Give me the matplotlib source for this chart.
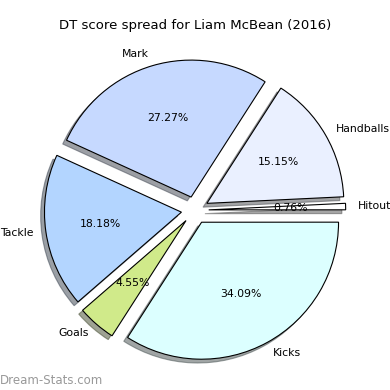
import matplotlib
matplotlib.use('Agg')
import matplotlib.pyplot as plt

labels = ['Kicks', 'Hitout', 'Handballs', 'Mark', 'Tackle', 'Goals']
values = [45, 1, 20, 36, 24, 6]
colors = ['#dcffff', '#ffffff', '#eaf0ff', '#c6d9ff', '#b3d5ff', '#d0ea8a']
explode = [0.1] * len(values)

fig = plt.figure(figsize=(3.9, 3.9), dpi=100)
ax = fig.add_axes([0.03, 0.022, 0.94, 0.878])
ax.pie(values, labels=labels, colors=colors, explode=explode, autopct='%.2f%%',
       startangle=-122.7, shadow=True, labeldistance=1.09,
       wedgeprops={'edgecolor': 'black', 'linewidth': 0.8},
       textprops={'fontsize': 7.8})
ax.set_aspect('equal')
fig.suptitle('DT score spread for Liam McBean (2016)', fontsize=9.5, y=0.952)
fig.text(0.0, 0.015, 'Dream-Stats.com', fontsize=8.5, color='#999999')
fig.savefig('out.png', dpi=100)
